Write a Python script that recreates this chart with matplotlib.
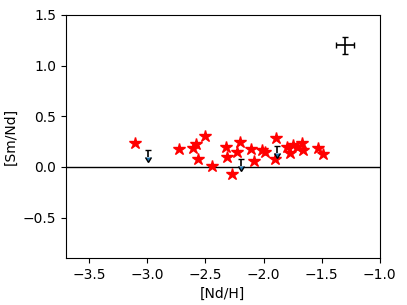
from matplotlib import pyplot as plt
import numpy as np

# detections
nd_h = [-3.11, -2.73, -2.58, -2.61, -2.50, -2.56, -2.44, -2.32, -2.31, -2.20,
        -2.23, -2.27, -2.11, -2.08, -2.01, -1.89, -1.90, -1.99, -1.77, -1.75,
        -1.67, -1.66, -1.53, -1.49, -1.80, -1.71]
sm_nd = [0.24, 0.18, 0.23, 0.19, 0.30, 0.08, 0.01, 0.20, 0.10, 0.25,
         0.15, -0.07, 0.18, 0.06, 0.17, 0.29, 0.08, 0.15, 0.14, 0.22,
         0.24, 0.17, 0.19, 0.13, 0.20, 0.20]

# upper limits
lim_nd_h = [-2.99, -2.19, -1.88]
lim_sm_nd = [0.17, 0.08, 0.21]

# typical error
err_x, err_y = -1.30, 1.20
err_dx, err_dy = 0.075, 0.085

fig = plt.figure(figsize=(4.07, 3.05), dpi=100)
ax = fig.add_axes([0.162, 0.154, 0.771, 0.797])

ax.axhline(0, color='k', lw=1)
ax.plot(nd_h, sm_nd, '*', color='red', ms=9, mec='red', ls='none')
ax.errorbar(lim_nd_h, lim_sm_nd, yerr=0.07, uplims=True, fmt='none',
            ecolor='k', capsize=2.5, elinewidth=1.2, zorder=3)
ax.errorbar(err_x, err_y, xerr=err_dx, yerr=err_dy, fmt='none',
            ecolor='k', capsize=2, elinewidth=1.2)

ax.set_xlim(-3.7, -1.0)
ax.set_ylim(-0.9, 1.5)
ax.set_xticks([-3.5, -3.0, -2.5, -2.0, -1.5, -1.0])
ax.set_yticks([-0.5, 0.0, 0.5, 1.0, 1.5])
ax.set_xlabel("[Nd/H]")
ax.set_ylabel("[Sm/Nd]")

plt.savefig("out.png", dpi=100)
